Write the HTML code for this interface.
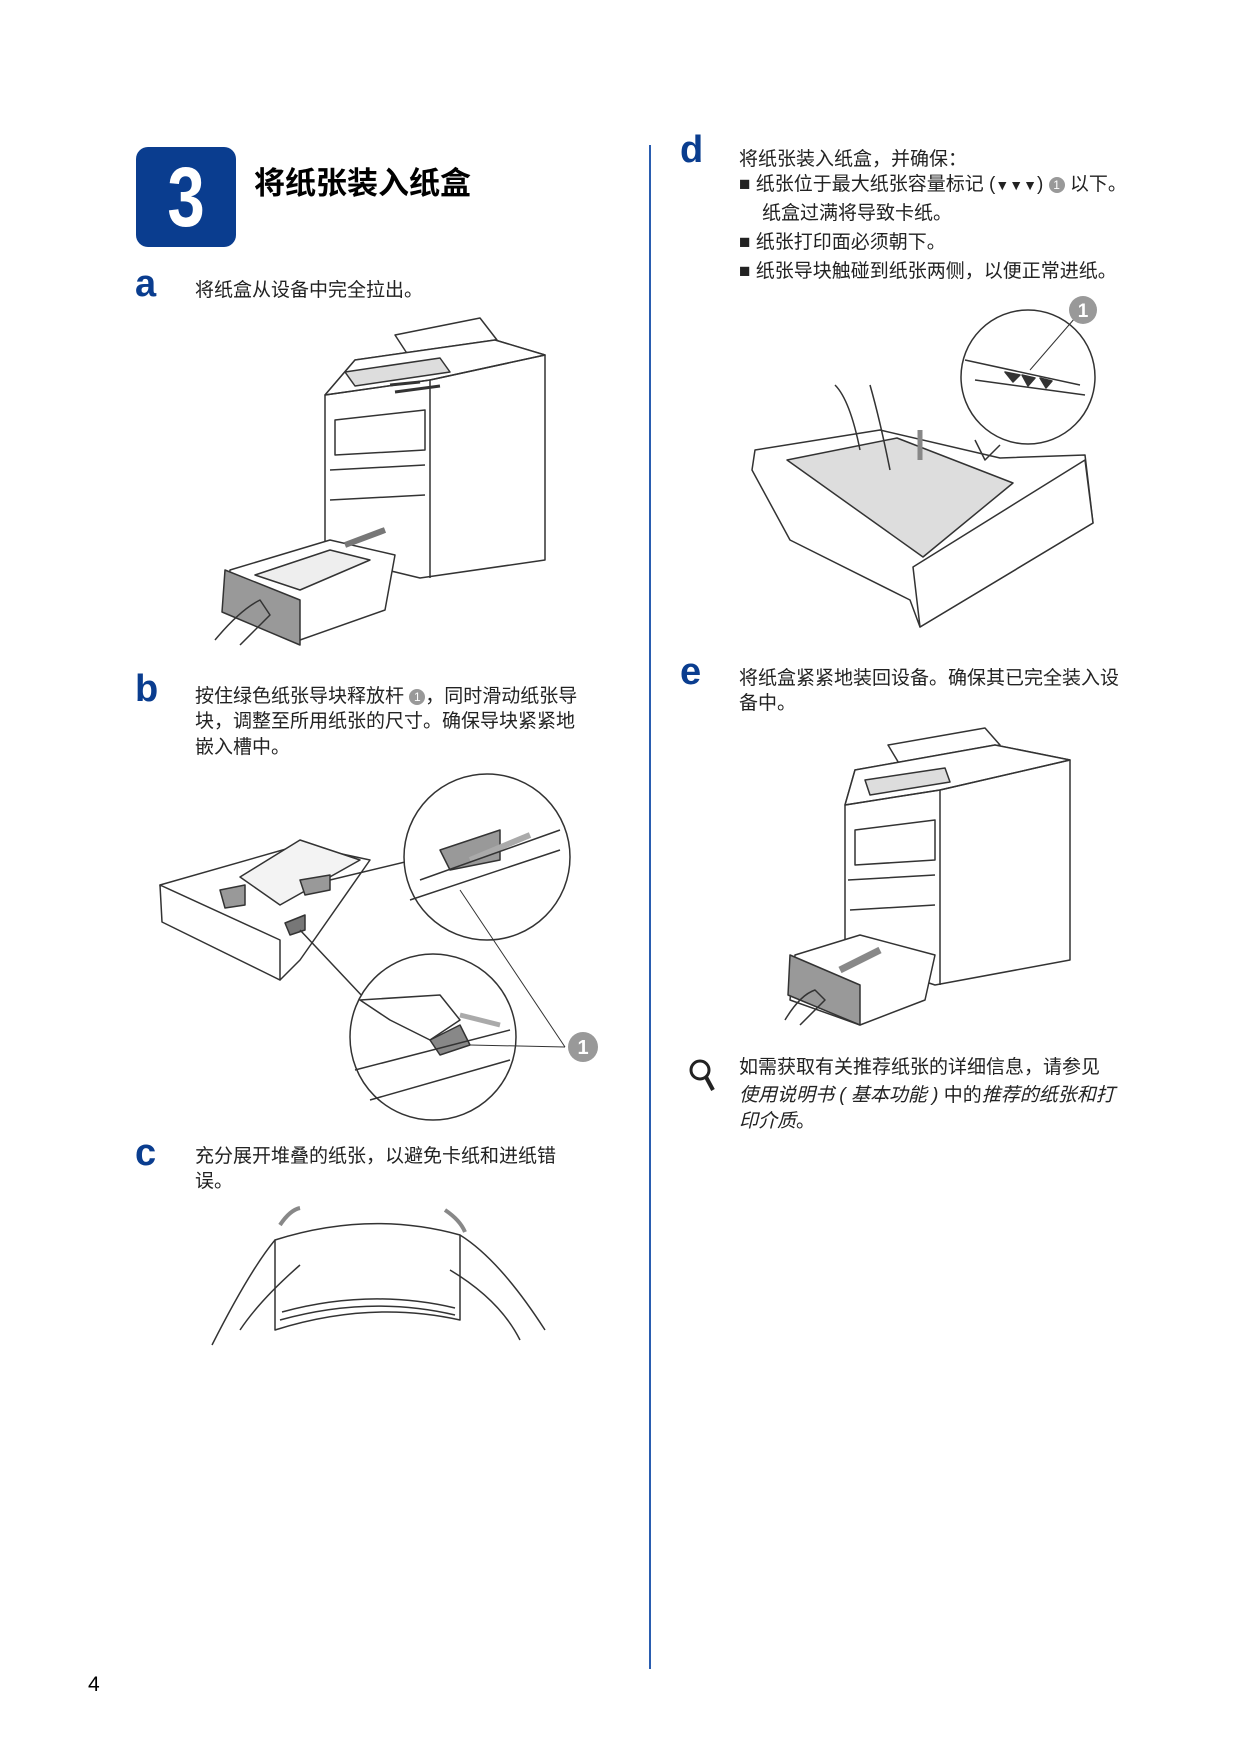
<!DOCTYPE html>
<html><head><meta charset="utf-8"><style>
body{margin:0;background:#fff;}
.pg{position:relative;width:1241px;height:1755px;overflow:hidden;font-family:"Liberation Sans","Noto Sans CJK SC",sans-serif;color:#222;}
.t{position:absolute;font-size:19px;line-height:26px;white-space:nowrap;}
.l{position:absolute;font-family:"Liberation Sans",sans-serif;font-weight:bold;color:#0a3d8f;font-size:38px;line-height:38px;}
svg{position:absolute;left:0;top:0;}
</style></head><body><div class="pg">
<div style="position:absolute;left:136px;top:147px;width:100px;height:100px;background:#0a3d8f;border-radius:12px;"></div>
<div style="position:absolute;left:136px;top:150px;width:100px;text-align:center;color:#fff;font:bold 84px/94px 'Liberation Sans Narrow','Liberation Sans',sans-serif;transform:scaleX(0.8);">3</div>
<div class="t" style="left:254px;top:165px;font-size:31px;line-height:38px;font-weight:bold;color:#000;">将纸张装入纸盒</div>

<div class="l" style="left:135px;top:265px;">a</div>
<div class="t" style="left:195px;top:278px;">将纸盒从设备中完全拉出。</div>

<div class="l" style="left:135px;top:670px;">b</div>
<div class="t" style="left:195px;top:684px;">按住绿色纸张导块释放杆 <span style="display:inline-block;width:16px;height:16px;border-radius:50%;background:#999;color:#fff;font-size:12px;line-height:16px;text-align:center;vertical-align:1px;">1</span>，同时滑动纸张导</div>
<div class="t" style="left:195px;top:709px;">块，调整至所用纸张的尺寸。确保导块紧紧地</div>
<div class="t" style="left:195px;top:735px;">嵌入槽中。</div>

<div class="l" style="left:135px;top:1134px;">c</div>
<div class="t" style="left:195px;top:1144px;">充分展开堆叠的纸张，以避免卡纸和进纸错</div>
<div class="t" style="left:195px;top:1169px;">误。</div>

<div style="position:absolute;left:649px;top:145px;width:2px;height:1524px;background:#2a5db0;"></div>

<div class="l" style="left:680px;top:131px;">d</div>
<div class="t" style="left:739px;top:147px;">将纸张装入纸盒，并确保：</div>
<div class="t" style="left:739px;top:172px;">■ 纸张位于最大纸张容量标记 (<b style="font-size:14px">▼▼▼</b>) <span style="display:inline-block;width:16px;height:16px;border-radius:50%;background:#999;color:#fff;font-size:12px;line-height:16px;text-align:center;vertical-align:1px;">1</span> 以下。</div>
<div class="t" style="left:762px;top:201px;">纸盒过满将导致卡纸。</div>
<div class="t" style="left:739px;top:230px;">■ 纸张打印面必须朝下。</div>
<div class="t" style="left:739px;top:259px;">■ 纸张导块触碰到纸张两侧，以便正常进纸。</div>

<div class="l" style="left:680px;top:653px;">e</div>
<div class="t" style="left:739px;top:666px;">将纸盒紧紧地装回设备。确保其已完全装入设</div>
<div class="t" style="left:739px;top:691px;">备中。</div>

<div class="t" style="left:739px;top:1055px;">如需获取有关推荐纸张的详细信息，请参见</div>
<div class="t" style="left:739px;top:1083px;"><i>使用说明书 ( 基本功能 )</i> 中的<i>推荐的纸张和打</i></div>
<div class="t" style="left:739px;top:1109px;"><i>印介质</i>。</div>

<div class="t" style="left:88px;top:1672px;font-size:21px;color:#000;">4</div>

<svg width="1241" height="1755" fill="none" stroke="#333" stroke-width="1.5" stroke-linejoin="round">
<circle cx="700" cy="1070" r="9" stroke="#222" stroke-width="3"/>
<line x1="706" y1="1077" x2="713" y2="1090" stroke="#222" stroke-width="4"/>

<g>
<path d="M395 335 L480 318 L497 340 L410 358 Z" fill="#fff"/>
<path d="M355 360 L495 340 L545 355 L545 560 L420 578 L325 555 L325 395 Z" fill="#fff"/>
<path d="M325 395 L355 360 L495 340 L545 355 L430 380 Z" fill="#fff"/>
<path d="M325 395 L430 380 L430 578"/>
<path d="M430 380 L545 355"/>
<path d="M345 372 L440 358 L450 372 L355 386 Z" fill="#ddd"/>
<path d="M335 420 L425 410 L425 450 L335 455 Z"/>
<path d="M330 470 L425 465"/>
<path d="M330 500 L425 495"/>
<path d="M390 385 L420 382 M395 392 L440 386" stroke-width="3"/>
<path d="M230 570 L330 540 L395 555 L385 610 L300 640 L225 610 Z" fill="#fff"/>
<path d="M225 570 L300 600 L300 645 L222 612 Z" fill="#999"/>
<path d="M255 575 L330 550 L370 560 L300 590 Z" fill="#eee"/>
<path d="M345 545 L385 530" stroke="#777" stroke-width="6"/>
<path d="M215 640 Q240 610 260 600 L270 615 Q255 630 240 645"/>
</g>

<g>
<path d="M160 885 L300 845 L370 860 L300 960 L280 980 L165 920 Z" fill="#fff"/>
<path d="M160 885 L280 940 L280 980 L162 922 Z" fill="#fff"/>
<path d="M240 877 L300 840 L360 860 L280 905 Z" fill="#f3f3f3"/>
<path d="M220 890 L245 885 L245 905 L225 908 Z" fill="#999"/>
<path d="M300 880 L330 875 L330 890 L305 895 Z" fill="#999"/>
<path d="M285 923 L305 915 L305 930 L290 935 Z" fill="#777"/>
<path d="M330 880 L455 850 M300 930 L380 1015"/>
<circle cx="487" cy="857" r="83" fill="#fff"/>
<path d="M440 850 L500 830 L500 860 L450 870 Z" fill="#999"/>
<path d="M470 860 L530 835" stroke="#aaa" stroke-width="6"/>
<path d="M420 880 L560 830 M410 900 L560 850"/>
<circle cx="433" cy="1037" r="83" fill="#fff"/>
<path d="M360 1000 L440 995 L460 1020 L430 1040 L390 1020 Z" fill="#fff"/>
<path d="M430 1040 L460 1025 L470 1045 L440 1055 Z" fill="#888"/>
<path d="M460 1015 L500 1025" stroke="#aaa" stroke-width="5"/>
<path d="M355 1070 L510 1030 M370 1100 L510 1060"/>
<path d="M470 1045 L565 1047 M460 890 L565 1047" stroke-width="1"/>
<circle cx="583" cy="1047" r="15" fill="#999" stroke="none"/>
<text x="583" y="1054" font-family="Liberation Sans" font-size="20" font-weight="bold" fill="#fff" stroke="none" text-anchor="middle">1</text>
</g>

<g>
<path d="M275 1240 Q370 1210 460 1235 L460 1320 Q370 1300 275 1330 Z" fill="#fff"/>
<path d="M280 1320 Q370 1295 455 1315 M282 1312 Q370 1288 455 1308"/>
<path d="M275 1240 Q250 1270 212 1345 M300 1265 Q260 1300 240 1330"/>
<path d="M460 1235 Q500 1260 545 1330 M450 1270 Q500 1300 520 1340"/>
<path d="M280 1225 Q290 1210 300 1208" stroke="#888" stroke-width="4"/>
<path d="M445 1210 Q460 1220 465 1232" stroke="#888" stroke-width="4"/>
</g>

<g>
<path d="M755 450 L880 430 L1000 458 L1085 455 L1093 523 L920 627 L910 600 L790 540 L752 470 Z" fill="#fff"/>
<path d="M787 460 L897 438 L1013 483 L923 557 Z" fill="#ddd"/>
<path d="M913 567 L1085 460 L1093 523 L920 627 Z" fill="#fff"/>
<path d="M860 450 Q850 400 835 385 M890 470 Q880 420 870 385"/>
<path d="M920 430 L920 460" stroke="#888" stroke-width="5"/>
<circle cx="1028" cy="377" r="67" fill="#fff"/>
<path d="M975 440 L985 460 L1000 445"/>
<path d="M965 360 L1080 385 M975 380 L1085 395"/>
<path d="M1005 372 L1020 375 L1013 382 Z M1022 375 L1035 378 L1028 386 Z M1040 378 L1052 381 L1046 388 Z" fill="#333"/>
<path d="M1030 370 L1075 318" stroke-width="1"/>
<circle cx="1083" cy="310" r="14" fill="#999" stroke="none"/>
<text x="1083" y="317" font-family="Liberation Sans" font-size="19" font-weight="bold" fill="#fff" stroke="none" text-anchor="middle">1</text>
</g>

<g>
<path d="M888 745 L985 728 L1000 745 L900 765 Z" fill="#fff"/>
<path d="M855 770 L995 745 L1070 760 L1070 960 L935 985 L845 955 L845 805 Z" fill="#fff"/>
<path d="M845 805 L855 770 L995 745 L1070 760 L940 790 Z" fill="#fff"/>
<path d="M845 805 L940 790 L940 985 M940 790 L1070 760"/>
<path d="M865 780 L945 768 L950 782 L870 795 Z" fill="#ddd"/>
<path d="M855 830 L935 820 L935 860 L855 865 Z"/>
<path d="M848 880 L935 875 M850 910 L935 905"/>
<path d="M795 955 L860 935 L935 955 L925 1000 L860 1025 L790 1000 Z" fill="#fff"/>
<path d="M790 955 L860 985 L860 1025 L788 995 Z" fill="#999"/>
<path d="M840 970 L880 950" stroke="#888" stroke-width="7"/>
<path d="M785 1020 Q800 995 815 990 L825 1000 Q810 1015 800 1025"/>
</g>
</svg>
</div></body></html>
